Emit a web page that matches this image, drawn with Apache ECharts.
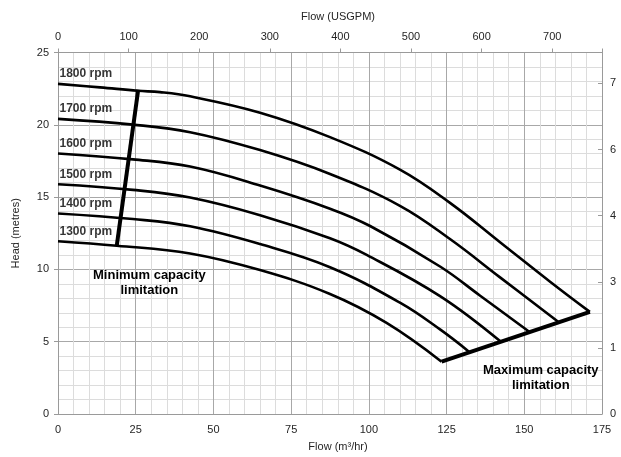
<!DOCTYPE html>
<html>
<head>
<meta charset="utf-8">
<script src="https://cdn.jsdelivr.net/npm/echarts@6/dist/echarts.min.js"></script>
<style>
html,body{margin:0;padding:0;background:#fff;}
#chart{width:621px;height:457px;}
</style>
</head>
<body>
<div id="chart"></div>
<script>
// ---- Data (Flow in m3/hr, Head in metres) ----
const RPM_NAMES = ['1800 rpm', '1700 rpm', '1600 rpm', '1500 rpm', '1400 rpm', '1300 rpm'];

const Q_1800 = [0, 13.5, 25.7, 32.8, 42.5, 65.0, 87.5, 110.0, 126.1, 142.2, 158.3, 171.1];
const H_1800 = [22.83, 22.59, 22.35, 22.26, 21.97, 20.84, 19.15, 16.9, 14.6, 11.88, 9.15, 7.06];

const Q_1700 = [0, 24.1, 42.5, 65.0, 87.5, 110.0, 126.1, 142.2, 160.9];
const H_1700 = [20.41, 20.01, 19.49, 18.25, 16.6, 14.4, 12.1, 9.45, 6.38];

const Q_1600 = [0, 24.1, 42.5, 65.0, 87.5, 100.4, 122.9, 135.7, 151.6];
const H_1600 = [18.02, 17.61, 17.11, 15.8, 14.2, 13.0, 10.2, 8.2, 5.69];

const Q_1500 = [0, 24.1, 42.5, 65.0, 87.5, 99.3, 122.9, 142.2];
const H_1500 = [15.89, 15.50, 14.97, 13.75, 12.15, 11.0, 8.15, 5.04];

const Q_1400 = [0, 24.1, 42.5, 65.0, 87.5, 110.0, 122.9, 132.5];
const H_1400 = [13.87, 13.48, 12.98, 11.75, 10.15, 7.7, 5.85, 4.26];

const Q_1300 = [0, 18.9, 42.5, 65.0, 87.5, 105.7, 123.4];
const H_1300 = [11.95, 11.64, 11.1, 9.95, 8.3, 6.3, 3.62];

const MIN_CAP_Q = [25.8, 18.9];
const MIN_CAP_H = [22.42, 11.64];

const MAX_CAP_Q = [123.4, 171.1];
const MAX_CAP_H = [3.62, 7.06];

// Axis ranges / tick labels
const X_MAX = 175;            // m3/hr
const Y_MAX = 25;             // metres
const USGPM_PER_M3H = 4.4029; // top axis conversion
const RIGHT_UNIT_M = 3.048;   // right axis unit (10 ft) in metres
const RIGHT_LABELS = ['0', '1', '3', '4', '6', '7'];

const CURVES_Q = [Q_1800, Q_1700, Q_1600, Q_1500, Q_1400, Q_1300];
const CURVES_H = [H_1800, H_1700, H_1600, H_1500, H_1400, H_1300];

function pairs(qs, hs) { return qs.map((q, i) => [q, hs[i]]); }

const FONT = 'Liberation Sans, Arial, sans-serif';
const TXT = '#262626';
const AXIS_C = '#9a9a9a';

const series = [];
CURVES_Q.forEach((qs, i) => {
  series.push({
    type: 'line', name: RPM_NAMES[i],
    data: pairs(qs, CURVES_H[i]),
    smooth: 0.4,
    showSymbol: false, symbol: 'none',
    lineStyle: { color: '#000', width: 2.6 },
    z: 5
  });
});
series.push({
  type: 'line', name: 'min', data: pairs(MIN_CAP_Q, MIN_CAP_H),
  showSymbol: false, symbol: 'none',
  lineStyle: { color: '#000', width: 4 }, z: 6
});
series.push({
  type: 'line', name: 'max', data: pairs(MAX_CAP_Q, MAX_CAP_H),
  showSymbol: false, symbol: 'none',
  lineStyle: { color: '#000', width: 4 }, z: 6
});
// rpm labels anchored at the shut-off point of each curve
series.push({
  type: 'scatter', name: 'labels',
  data: CURVES_Q.map((qs, i) => ({ value: [qs[0], CURVES_H[i][0]], name: RPM_NAMES[i] })),
  symbolSize: 1,
  itemStyle: { color: 'rgba(0,0,0,0)' },
  label: {
    show: true, position: 'right', distance: 1, offset: [0, -10],
    formatter: p => p.name,
    fontFamily: FONT, fontWeight: 'bold', fontSize: 12, color: '#000'
  },
  silent: true, z: 7
});

const chart = echarts.init(document.getElementById('chart'), null, { renderer: 'canvas' });
chart.setOption({
  animation: false,
  backgroundColor: '#fff',
  grid: { left: 58, right: 19, top: 52.5, bottom: 41, containLabel: false },
  xAxis: [
    {
      type: 'value', position: 'bottom', min: 0, max: X_MAX, interval: 25,
      name: 'Flow (m³/hr)', nameLocation: 'middle', nameGap: 27,
      nameTextStyle: { fontFamily: FONT, fontSize: 11, color: TXT, padding: [0, 0, 0, 16] },
      axisLine: { show: true, onZero: false, lineStyle: { color: AXIS_C, width: 1 } },
      axisTick: { show: false },
      axisLabel: { fontFamily: FONT, fontSize: 11, color: TXT, margin: 10 },
      splitLine: { show: true, lineStyle: { color: '#a8a8a8', width: 1 } },
      minorTick: { show: false, splitNumber: 5 },
      minorSplitLine: { show: true, lineStyle: { color: '#dcdcdc', width: 1 } }
    },
    {
      type: 'value', position: 'top', min: 0, max: X_MAX * USGPM_PER_M3H, interval: 100,
      name: 'Flow (USGPM)', nameLocation: 'middle', nameGap: 30,
      nameTextStyle: { fontFamily: FONT, fontSize: 11, color: TXT, padding: [0, 0, 0, 16] },
      axisLine: { show: true, onZero: false, lineStyle: { color: AXIS_C, width: 1 } },
      axisTick: { show: true, inside: false, length: 4, lineStyle: { color: AXIS_C } },
      axisLabel: {
        fontFamily: FONT, fontSize: 11, color: TXT, margin: 10,
        formatter: v => (Math.abs(v / 100 - Math.round(v / 100)) < 1e-6 ? String(Math.round(v)) : '')
      },
      splitLine: { show: false }
    }
  ],
  yAxis: [
    {
      type: 'value', position: 'left', min: 0, max: Y_MAX, interval: 5,
      name: 'Head (metres)', nameLocation: 'middle', nameGap: 37, nameRotate: 90,
      nameTextStyle: { fontFamily: FONT, fontSize: 11, color: TXT },
      axisLine: { show: true, onZero: false, lineStyle: { color: AXIS_C, width: 1 } },
      axisTick: { show: true, length: 4, lineStyle: { color: AXIS_C } },
      axisLabel: { fontFamily: FONT, fontSize: 11, color: TXT, margin: 9 },
      splitLine: { show: true, lineStyle: { color: '#a8a8a8', width: 1 } },
      minorTick: { show: false, splitNumber: 5 },
      minorSplitLine: { show: true, lineStyle: { color: '#dcdcdc', width: 1 } }
    },
    {
      type: 'value', position: 'right', min: 0, max: Y_MAX / RIGHT_UNIT_M, interval: 1.5,
      axisLine: { show: true, onZero: false, lineStyle: { color: AXIS_C, width: 1 } },
      axisTick: { show: true, inside: true, length: 4, lineStyle: { color: AXIS_C } },
      axisLabel: {
        fontFamily: FONT, fontSize: 11, color: TXT, margin: 8,
        formatter: v => {
          const k = v / 1.5;
          if (Math.abs(k - Math.round(k)) > 1e-6) return '';
          return RIGHT_LABELS[Math.round(k)] || '';
        }
      },
      splitLine: { show: false }
    }
  ],
  graphic: [
    {
      type: 'text', left: 93, top: 268, z: 10,
      style: {
        text: 'Minimum capacity\nlimitation', textAlign: 'center',
        font: 'bold 13px ' + FONT, fill: '#000', lineHeight: 15
      }
    },
    {
      type: 'text', left: 483, top: 363, z: 10,
      style: {
        text: 'Maximum capacity\nlimitation', textAlign: 'center',
        font: 'bold 13px ' + FONT, fill: '#000', lineHeight: 15
      }
    }
  ],
  series: series
});
</script>
</body>
</html>
